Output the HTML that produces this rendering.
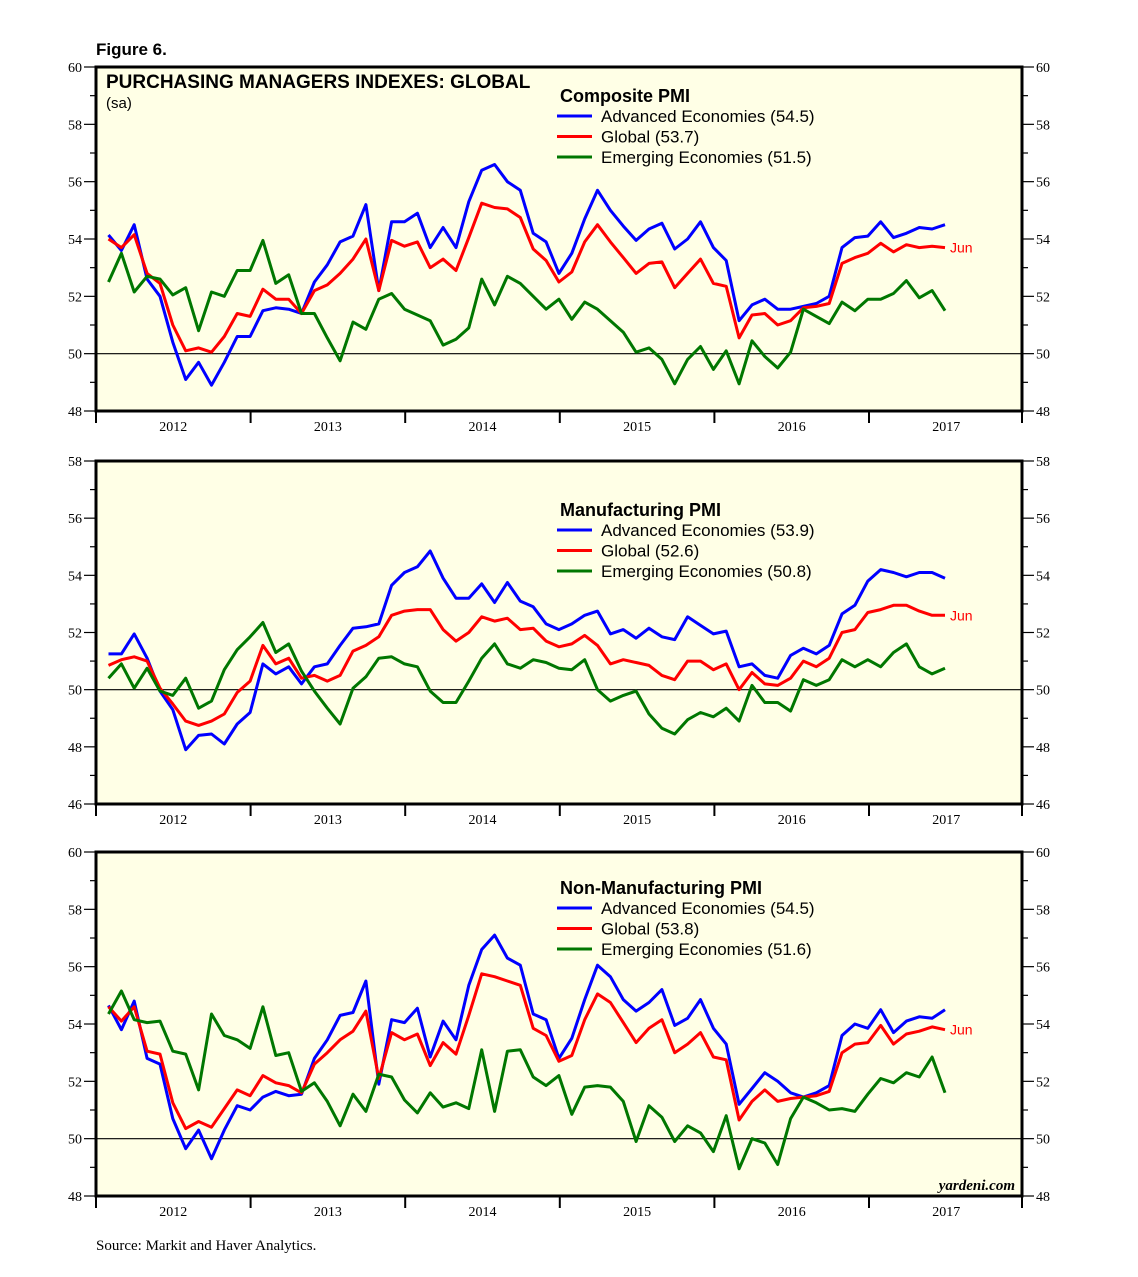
<!DOCTYPE html>
<html><head><meta charset="utf-8"><style>
html,body{margin:0;padding:0;background:#fff;}
svg{display:block;}
</style></head><body>
<svg id="chart" width="1138" height="1277" viewBox="0 0 1138 1277" xmlns="http://www.w3.org/2000/svg">
<text x="96" y="55" font-family="Liberation Sans, sans-serif" font-weight="bold" font-size="17">Figure 6.</text>
<text x="96" y="1250" font-family="Liberation Serif, serif" font-size="15">Source:  Markit and Haver Analytics.</text>
</svg>
<script>
const compAdv=[54.14,53.6,54.5,52.6,52.0,50.4,49.1,49.7,48.9,49.7,50.6,50.6,51.5,51.6,51.55,51.4,52.5,53.1,53.9,54.1,55.2,52.2,54.6,54.6,54.9,53.7,54.4,53.7,55.3,56.4,56.6,56.0,55.7,54.2,53.9,52.8,53.5,54.7,55.7,55.0,54.45,53.95,54.35,54.55,53.65,54.0,54.6,53.7,53.25,51.15,51.7,51.9,51.55,51.55,51.65,51.75,52.0,53.7,54.05,54.1,54.6,54.05,54.2,54.4,54.35,54.5];
const compGlb=[54.0,53.7,54.15,52.8,52.45,51.0,50.1,50.2,50.05,50.6,51.4,51.3,52.25,51.9,51.9,51.4,52.2,52.4,52.8,53.3,54.0,52.2,53.95,53.75,53.9,53.0,53.3,52.9,54.05,55.25,55.1,55.05,54.75,53.65,53.25,52.5,52.85,53.9,54.5,53.9,53.35,52.8,53.15,53.2,52.3,52.8,53.3,52.45,52.35,50.55,51.35,51.4,51.0,51.15,51.6,51.65,51.75,53.15,53.35,53.5,53.85,53.55,53.8,53.7,53.75,53.7];
const compEm=[52.5,53.5,52.15,52.7,52.6,52.05,52.3,50.8,52.15,52.0,52.9,52.9,53.95,52.45,52.75,51.4,51.4,50.55,49.75,51.1,50.85,51.9,52.1,51.55,51.35,51.15,50.3,50.5,50.9,52.6,51.7,52.7,52.45,52.0,51.55,51.9,51.2,51.8,51.55,51.15,50.75,50.05,50.2,49.8,48.95,49.8,50.25,49.45,50.1,48.95,50.45,49.9,49.5,50.05,51.55,51.3,51.05,51.8,51.5,51.9,51.9,52.1,52.55,51.95,52.2,51.5];
const mfgAdv=[51.25,51.25,51.95,51.1,49.95,49.3,47.9,48.4,48.45,48.1,48.8,49.2,50.9,50.55,50.8,50.2,50.8,50.9,51.55,52.15,52.2,52.3,53.65,54.1,54.3,54.85,53.9,53.2,53.2,53.7,53.05,53.75,53.1,52.9,52.3,52.1,52.3,52.6,52.75,51.95,52.1,51.8,52.15,51.85,51.75,52.55,52.25,51.95,52.05,50.8,50.9,50.5,50.4,51.2,51.45,51.25,51.55,52.65,52.95,53.8,54.2,54.1,53.95,54.1,54.1,53.9];
const mfgGlb=[50.85,51.05,51.15,51.0,50.05,49.5,48.9,48.75,48.9,49.15,49.9,50.3,51.55,50.9,51.1,50.4,50.5,50.3,50.5,51.35,51.55,51.85,52.6,52.75,52.8,52.8,52.1,51.7,52.0,52.55,52.4,52.5,52.1,52.15,51.7,51.5,51.6,51.9,51.55,50.9,51.05,50.95,50.85,50.5,50.35,51.0,51.0,50.7,50.9,50.0,50.6,50.2,50.15,50.4,51.0,50.8,51.1,52.0,52.1,52.7,52.8,52.95,52.95,52.75,52.6,52.6];
const mfgEm=[50.4,50.9,50.05,50.75,49.95,49.8,50.4,49.35,49.6,50.7,51.4,51.85,52.35,51.3,51.6,50.65,49.95,49.35,48.8,50.05,50.45,51.1,51.15,50.9,50.8,49.95,49.55,49.55,50.3,51.1,51.6,50.9,50.75,51.05,50.95,50.75,50.7,51.05,50.0,49.6,49.8,49.95,49.15,48.65,48.45,48.95,49.2,49.05,49.35,48.9,50.15,49.55,49.55,49.25,50.35,50.15,50.35,51.05,50.8,51.05,50.8,51.3,51.6,50.8,50.55,50.75];
const nmAdv=[54.65,53.8,54.8,52.8,52.6,50.7,49.65,50.3,49.3,50.3,51.15,51.0,51.45,51.65,51.5,51.55,52.8,53.45,54.3,54.4,55.5,51.9,54.15,54.05,54.55,52.85,54.1,53.45,55.35,56.6,57.1,56.3,56.05,54.35,54.15,52.8,53.5,54.85,56.05,55.65,54.85,54.45,54.75,55.2,53.95,54.2,54.85,53.85,53.3,51.2,51.75,52.3,52.0,51.6,51.45,51.6,51.85,53.6,54.0,53.85,54.5,53.7,54.1,54.25,54.2,54.5];
const nmGlb=[54.6,54.1,54.6,53.05,52.95,51.25,50.35,50.6,50.4,51.05,51.7,51.5,52.2,51.95,51.85,51.6,52.6,53.0,53.45,53.75,54.45,52.1,53.7,53.45,53.65,52.55,53.35,52.95,54.3,55.75,55.65,55.5,55.35,53.85,53.6,52.7,52.9,54.15,55.05,54.75,54.05,53.35,53.85,54.15,53.0,53.3,53.7,52.85,52.75,50.65,51.3,51.7,51.3,51.4,51.45,51.5,51.65,53.0,53.3,53.35,53.95,53.3,53.65,53.75,53.9,53.8];
const nmEm=[54.35,55.15,54.15,54.05,54.1,53.05,52.95,51.7,54.35,53.6,53.45,53.15,54.6,52.9,53.0,51.65,51.95,51.3,50.45,51.55,50.95,52.25,52.15,51.35,50.9,51.6,51.1,51.25,51.05,53.1,50.95,53.05,53.1,52.15,51.85,52.2,50.85,51.8,51.85,51.8,51.3,49.9,51.15,50.75,49.9,50.45,50.2,49.55,50.8,48.95,50.0,49.85,49.1,50.7,51.45,51.25,51.0,51.05,50.95,51.55,52.1,51.95,52.3,52.15,52.85,51.6];
const yearLabels=["2012","2013","2014","2015","2016","2017"];
const legendNames=["Advanced Economies","Global","Emerging Economies"];

const NS="http://www.w3.org/2000/svg";
const svg=document.getElementById('chart');
const X0=96,X1=1022,YEARW=154.6;
function xi(i){return 108.5+i*(945-108.5)/65;}
function mk(tag,attrs,parent){const e=document.createElementNS(NS,tag);for(const k in attrs)e.setAttribute(k,attrs[k]);(parent||svg).appendChild(e);return e;}

const panels=[
 {top:67,bot:411,min:48,max:60,title:"Composite PMI",ty:102,series:[compAdv,compGlb,compEm],main:true},
 {top:461,bot:804,min:46,max:58,title:"Manufacturing PMI",ty:516,series:[mfgAdv,mfgGlb,mfgEm]},
 {top:852,bot:1196,min:48,max:60,title:"Non-Manufacturing PMI",ty:894,series:[nmAdv,nmGlb,nmEm],yard:true}
];
const colors=["#0000ff","#ff0000","#007700"];
panels.forEach((p,pi)=>{
  const g=mk('g',{});
  
  
  const y=v=>p.bot-(v-p.min)*(p.bot-p.top)/(p.max-p.min);
  const bg=mk('rect',{x:X0,y:p.top,width:X1-X0,height:p.bot-p.top,fill:'#ffffe6'},g);
  
  
  for(let v=p.min;v<=p.max;v++){
    const yy=y(v),maj=(v%2===0),len=maj?12:6;
    mk('line',{x1:X0-len,x2:X0,y1:yy,y2:yy,stroke:'#000','stroke-width':1.2},g);
    mk('line',{x1:X1,x2:X1+len,y1:yy,y2:yy,stroke:'#000','stroke-width':1.2},g);
    if(maj){
      const tl=mk('text',{x:X0-14,y:yy+5,'text-anchor':'end','font-family':'Liberation Serif, serif','font-size':14},g);
      tl.textContent=v;
      
      
      const tr=mk('text',{x:X1+14,y:yy+5,'font-family':'Liberation Serif, serif','font-size':14},g);
      tr.textContent=v;
      
      
    }
  }
  const ref=mk('line',{x1:X0,x2:X1,y1:y(50),y2:y(50),stroke:'#000','stroke-width':1.2},g);
  
  
  for(let k=0;k<=6;k++){
    const xx=Math.min(X0+k*YEARW,X1);
    mk('line',{x1:xx,x2:xx,y1:p.bot,y2:p.bot+12,stroke:'#000','stroke-width':2},g);
  }
  yearLabels.forEach((lab,k)=>{
    const t=mk('text',{x:X0+k*YEARW+YEARW/2,y:p.bot+20,'text-anchor':'middle','font-family':'Liberation Serif, serif','font-size':14},g);
    t.textContent=lab;
    
    
  });
  p.series.forEach((arr,si)=>{
    const d=arr.map((v,i)=>(i?'L':'M')+xi(i).toFixed(1)+' '+y(v).toFixed(1)).join(' ');
    const pl=mk('path',{d:d,fill:'none',stroke:colors[si],'stroke-width':3,'stroke-linejoin':'round'},g);
    
    
  });
  const gl=p.series[1];
  const jn=mk('text',{x:950,y:y(gl[gl.length-1])+5,'font-family':'Liberation Sans, sans-serif','font-size':14,fill:'#ff0000'},g);
  jn.textContent='Jun';
  
  
  const fr=mk('rect',{x:X0,y:p.top,width:X1-X0,height:p.bot-p.top,fill:'none',stroke:'#000','stroke-width':3},g);
  
  
  const lt=mk('text',{x:560,y:p.ty,'font-family':'Liberation Sans, sans-serif','font-size':18,'font-weight':'bold'},g);
  lt.textContent=p.title;
  
  
  p.series.forEach((arr,si)=>{
    const ly=p.ty+14+si*20.5;
    mk('line',{x1:557,x2:592,y1:ly,y2:ly,stroke:colors[si],'stroke-width':3},g);
    const et=mk('text',{x:601,y:ly+6,'font-family':'Liberation Sans, sans-serif','font-size':17},g);
    et.textContent=legendNames[si]+' ('+arr[arr.length-1].toFixed(1)+')';
    
    
  });
  if(p.main){
    const t1=mk('text',{x:106,y:88,'font-family':'Liberation Sans, sans-serif','font-size':19,'font-weight':'bold'},g);
    t1.textContent='PURCHASING MANAGERS INDEXES: GLOBAL';
    
    
    const t2=mk('text',{x:106,y:108,'font-family':'Liberation Sans, sans-serif','font-size':15},g);
    t2.textContent='(sa)';
    
    
  }
  if(p.yard){
    const yd=mk('text',{x:1015,y:1190,'text-anchor':'end','font-family':'Liberation Serif, serif','font-size':15,'font-style':'italic','font-weight':'bold'},g);
    yd.textContent='yardeni.com';
    
    
  }
});
</script>
</body></html>
